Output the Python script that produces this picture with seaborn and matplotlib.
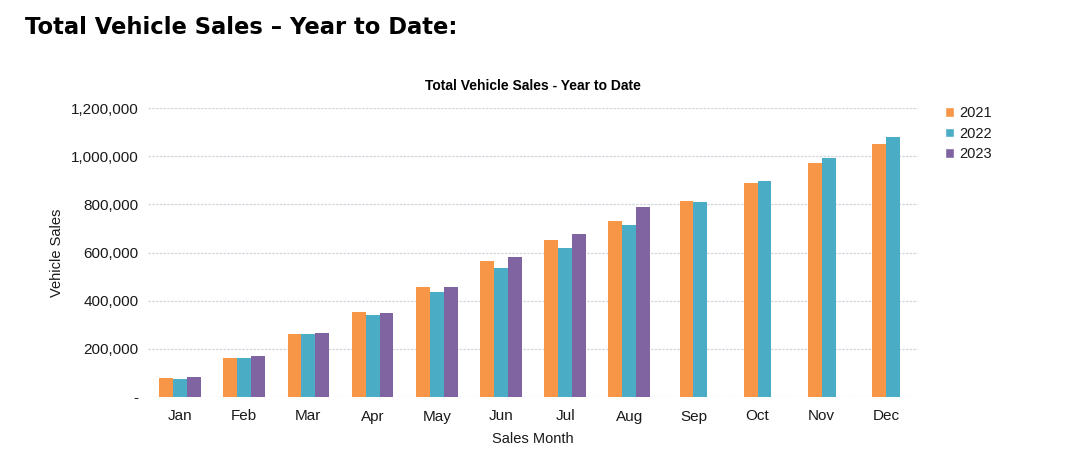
import numpy as np
import pandas as pd
import matplotlib.pyplot as plt
import seaborn as sns
from matplotlib.patches import Patch
from matplotlib.ticker import FuncFormatter

# cumulative vehicle sales
months = ["Jan", "Feb", "Mar", "Apr", "May", "Jun", "Jul", "Aug", "Sep", "Oct", "Nov", "Dec"]
sales_2021 = [79000, 162000, 260000, 354000, 455000, 566000, 650000, 731000, 814000, 888000, 970000, 1049000]
sales_2022 = [75000, 160000, 260000, 342000, 436000, 536000, 620000, 716000, 808000, 897000, 991000, 1080000]
sales_2023 = [83000, 170000, 265000, 350000, 455000, 580000, 677000, 788000]
years = ["2021", "2022", "2023"]
colors = {"2021": "#F79646", "2022": "#4BACC6", "2023": "#8064A2"}

rows = []
for yr, vals in zip(years, [sales_2021, sales_2022, sales_2023]):
    for m, v in zip(months, vals):
        rows.append({"month": m, "year": yr, "sales": v})
df = pd.DataFrame(rows)

# months with three years of data vs. months with only two
full = df[df["month"].isin(months[:len(sales_2023)])]
part = df[~df["month"].isin(months[:len(sales_2023)])]

sns.set_style("white")
plt.rcParams["font.family"] = ["Liberation Sans", "DejaVu Sans"]
txt = "#1a1a1a"

fig = plt.figure(figsize=(10.68, 4.66), dpi=100)
ax = fig.add_axes([148 / 1068, 1 - 397 / 466, 770 / 1068, 289 / 466])

bw = 0.65
sns.barplot(data=full, x="month", y="sales", hue="year", order=months,
            hue_order=years, palette=colors, width=bw, linewidth=0, ax=ax,
            errorbar=None, legend=False, saturation=1)
sns.barplot(data=part, x="month", y="sales", hue="year", order=months,
            hue_order=years[:2], palette=colors, width=bw * 2 / 3, linewidth=0,
            ax=ax, errorbar=None, legend=False, saturation=1)

ax.set_ylim(0, 1200000)
ax.set_xlim(-0.5, 11.5)
ax.set_yticks(np.arange(0, 1200001, 200000))
ax.yaxis.set_major_formatter(FuncFormatter(lambda v, p: "-" if v == 0 else f"{int(v):,}"))
ax.grid(axis="y", color="#cfd6dd", linewidth=0.9, linestyle=(0, (2, 1)))
ax.set_axisbelow(True)
for s in ax.spines.values():
    s.set_visible(False)
ax.tick_params(axis="both", length=0, labelsize=11, colors=txt)
ax.tick_params(axis="y", pad=7)
ax.tick_params(axis="x", pad=9)

ax.set_xlabel("Sales Month", fontsize=10.5, color=txt, labelpad=6)
ax.set_ylabel("Vehicle Sales", fontsize=10.5, color=txt)
ax.yaxis.set_label_coords(-0.109, 0.5)
ax.set_title("Total Vehicle Sales - Year to Date", fontsize=10, fontweight="bold",
             color="black", pad=13)

handles = [Patch(facecolor=colors[y], label=y) for y in years]
fig.legend(handles=handles, loc="upper left", bbox_to_anchor=(932 / 1068, 1 - 93 / 466),
           frameon=False, fontsize=10.5, handlelength=0.6, handleheight=0.6,
           handletextpad=0.4, labelspacing=0.45, labelcolor=txt)

fig.text(25 / 1068, 1 - 27 / 466, "Total Vehicle Sales \u2013 Year to Date:",
         fontsize=16.3, fontweight="bold", family="DejaVu Sans", color="black",
         va="center", ha="left")

fig.savefig("out.png", dpi=100)
